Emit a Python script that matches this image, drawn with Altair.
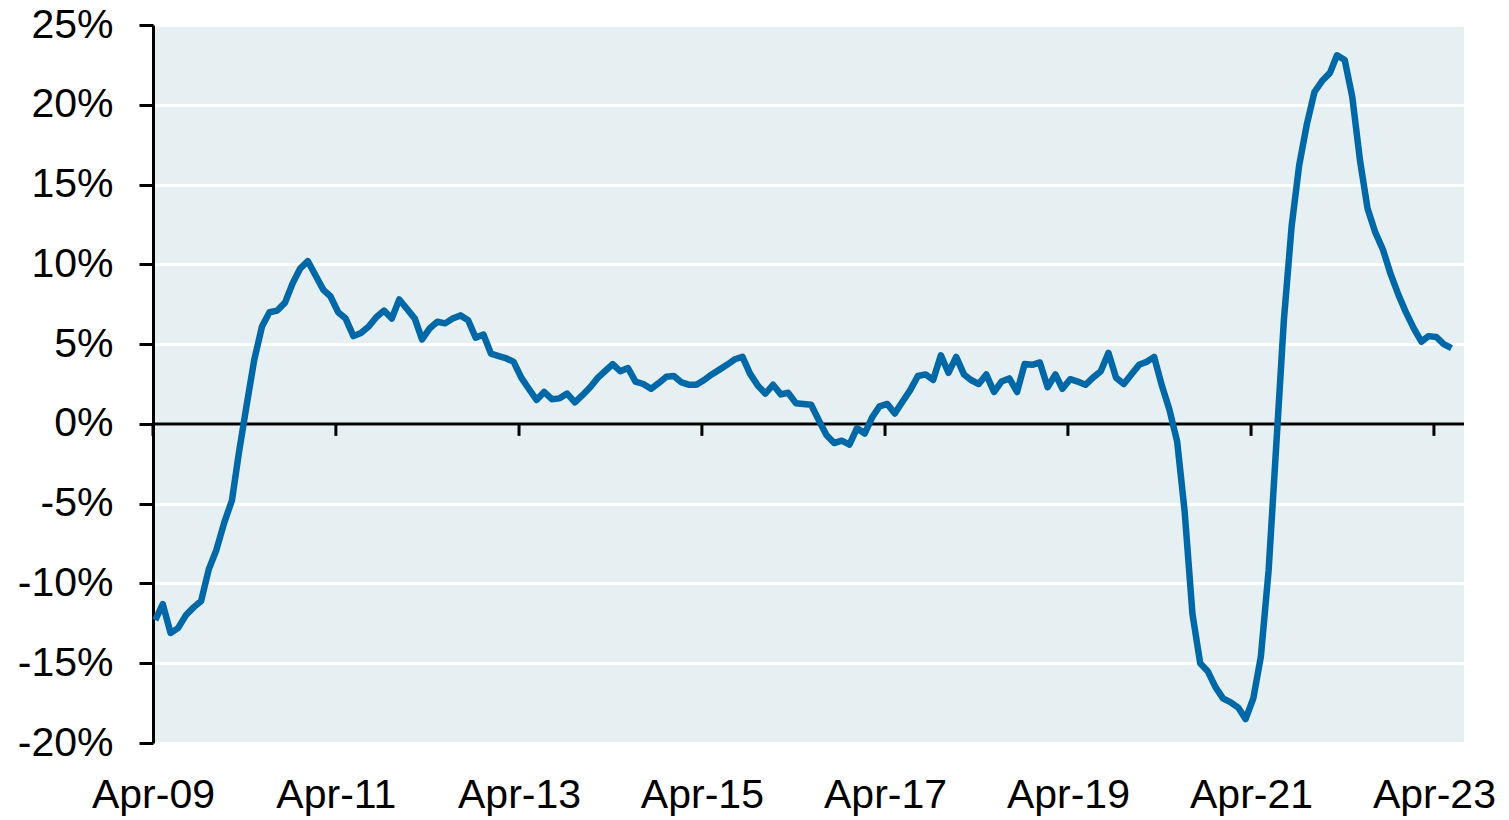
import altair as alt
import pandas as pd

start_month = "2009-04-10"
values = [
    -12.3, -11.3, -13.1, -12.8, -12.0, -11.5, -11.1, -9.1, -7.9, -6.2,
    -4.8, -1.8, 1.2, 4.0, 6.1, 7.0, 7.1, 7.6, 8.8, 9.75,
    10.2, 9.3, 8.4, 8.0, 7.0, 6.6, 5.5, 5.7, 6.1, 6.7,
    7.1, 6.6, 7.8, 7.2, 6.6, 5.3, 6.0, 6.4, 6.3, 6.6,
    6.8, 6.5, 5.4, 5.6, 4.4, 4.25, 4.1, 3.9, 2.9, 2.2,
    1.5, 2.0, 1.55, 1.6, 1.9, 1.35, 1.8, 2.3, 2.9, 3.3,
    3.75, 3.3, 3.5, 2.65, 2.5, 2.2, 2.55, 2.95, 3.0, 2.6,
    2.45, 2.45, 2.75, 3.1, 3.4, 3.7, 4.05, 4.2, 3.15, 2.4,
    1.9, 2.45, 1.85, 1.95, 1.3, 1.25, 1.2, 0.25, -0.7, -1.2,
    -1.05, -1.3, -0.27, -0.6, 0.45, 1.1, 1.25, 0.65, 1.4, 2.1,
    3.0, 3.1, 2.75, 4.3, 3.2, 4.2, 3.1, 2.75, 2.5, 3.1,
    2.0, 2.65, 2.85, 2.0, 3.75, 3.7, 3.85, 2.3, 3.1, 2.2,
    2.8, 2.65, 2.45, 2.9, 3.3, 4.45, 2.9, 2.5, 3.1, 3.7,
    3.9, 4.2, 2.4, 0.9, -1.1, -5.5, -11.9, -15.0, -15.5, -16.5,
    -17.2, -17.45, -17.8, -18.5, -17.2, -14.6, -9.2, -1.5, 6.5, 12.4,
    16.2, 18.8, 20.8, 21.5, 22.0, 23.1, 22.8, 20.5, 16.5, 13.5,
    12.0, 10.9, 9.4, 8.1, 7.0, 6.0, 5.15, 5.5, 5.45, 5.0,
    4.75,
]
tick_dates = ["2009-04-01", "2011-04-01", "2013-04-01", "2015-04-01",
              "2017-04-01", "2019-04-01", "2021-04-01", "2023-04-01"]
y_ticks = [-20, -15, -10, -5, 0, 5, 10, 15, 20, 25]

dates = (pd.date_range("2009-04-01", periods=len(values), freq="MS")
         + pd.Timedelta(days=9)).strftime("%Y-%m-%d")
df = pd.DataFrame({"date": dates, "value": values})
ticks_df = pd.DataFrame({"date": tick_dates, "y0": [0] * len(tick_dates),
                         "y1": [-0.75] * len(tick_dates)})
zero_df = pd.DataFrame({"y": [0]})

FONT = "Liberation Sans"
x_scale = alt.Scale(type="utc", domain=["2009-04-01", "2023-07-30"])
y_scale = alt.Scale(domain=[-20, 25], nice=False, zero=False)

x_axis = alt.Axis(
    values=[alt.DateTime(year=int(d[:4]), month=4, date=1, utc=True) for d in tick_dates],
    labelExpr="utcFormat(datum.value, '%b-%y')",
    domain=False, ticks=False, grid=False, title=None,
    labelFont=FONT, labelFontSize=41, labelColor="#000000",
    labelPadding=32, labelAlign="center", labelOverlap=False, labelFlush=False,
)
y_axis = alt.Axis(
    values=y_ticks, labelExpr="datum.value + '%'", title=None,
    domain=True, domainColor="#000000", domainWidth=3,
    ticks=True, tickColor="#000000", tickWidth=3, tickSize=14,
    grid=True, gridColor="#ffffff", gridWidth=3,
    labelFont=FONT, labelFontSize=41, labelColor="#000000", labelPadding=26,
)

line = alt.Chart(df).mark_line(color="#0068A6", strokeWidth=6.5, strokeJoin="round").encode(
    x=alt.X("date:T", scale=x_scale, axis=x_axis),
    y=alt.Y("value:Q", scale=y_scale, axis=y_axis),
)
zero = alt.Chart(zero_df).mark_rule(color="#000000", strokeWidth=3).encode(
    y=alt.Y("y:Q", scale=y_scale),
)
tick_marks = alt.Chart(ticks_df).mark_rule(color="#000000", strokeWidth=3).encode(
    x=alt.X("date:T", scale=x_scale),
    y=alt.Y("y0:Q", scale=y_scale),
    y2="y1:Q",
)

chart = alt.layer(zero, tick_marks, line).properties(
    width=1311, height=718,
    autosize=alt.AutoSizeParams(type="none"),
    padding={"left": 145, "top": 17, "right": 36, "bottom": 76},
    background="#ffffff",
).configure_view(fill="#E6F0F3", stroke=None)

chart.save("out.html", embed_options={"renderer": "svg", "actions": False})
